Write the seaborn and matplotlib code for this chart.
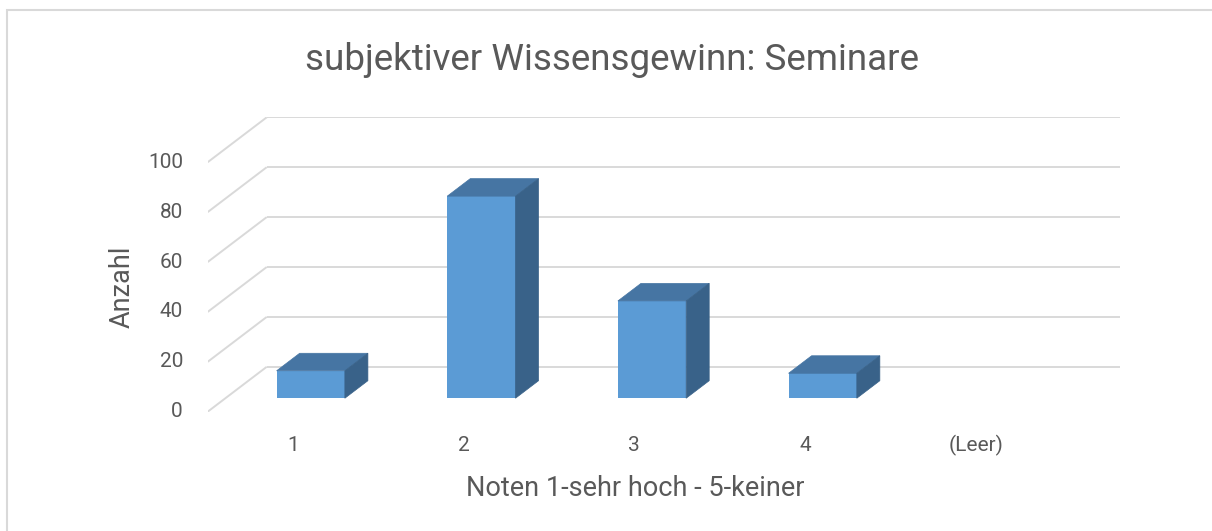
"""Pseudo-3D column chart: subjektiver Wissensgewinn (Seminare)."""

import matplotlib

matplotlib.use("Agg")

import matplotlib.pyplot as plt
import seaborn as sns
from matplotlib.patches import Polygon, Rectangle

categories = ["1", "2", "3", "4", "(Leer)"]
counts = [11, 81, 39, 10, 0]
y_ticks = [0, 20, 40, 60, 80, 100]

TITLE = "subjektiver Wissensgewinn: Seminare"
X_LABEL = "Noten 1-sehr hoch - 5-keiner"
Y_LABEL = "Anzahl"

FRONT = "#5B9BD5"
TOP = "#4675A3"
SIDE = "#396289"
GRID = "#D9D9D9"
TEXT = "#595959"

# oblique projection: full depth of the plot box in data units
DEPTH_X = 0.346
DEPTH_Y = 18.0
BAR_FRONT = 0.30  # bar position inside the depth (fraction)
BAR_BACK = 0.69
BAR_WIDTH = 0.4

W, H = 1212, 531

sns.set_theme(style="white")
plt.rcParams["font.family"] = ["Roboto", "DejaVu Sans"]

fig = plt.figure(figsize=(W / 100, H / 100), dpi=100)
ax = fig.add_axes([207.7 / W, 1 - 411.7 / H, 912.3 / W, 294.4 / H])

sns.barplot(
    x=categories,
    y=counts,
    color=FRONT,
    saturation=1,
    width=BAR_WIDTH,
    linewidth=0,
    ax=ax,
    zorder=3,
)

n = len(categories)
ax.set_xlim(-0.5, n - 0.5 + DEPTH_X)
ax.set_ylim(0, max(y_ticks) + DEPTH_Y)
ax.axis("off")

# grid: back wall lines plus the diagonals on the left wall
x0 = -0.5
for t in y_ticks:
    ax.plot([x0, x0 + DEPTH_X], [t, t + DEPTH_Y], color=GRID, lw=1.4, zorder=1,
            solid_capstyle="butt")
    ax.plot([x0 + DEPTH_X, n - 0.5 + DEPTH_X], [t + DEPTH_Y, t + DEPTH_Y],
            color=GRID, lw=1.4, zorder=1, solid_capstyle="butt")
    ax.text(x0 - 0.145, t, str(t), ha="right", va="center", fontsize=15,
            color=TEXT)

# push the front faces into the box and add top / side faces
fx, fy = BAR_FRONT * DEPTH_X, BAR_FRONT * DEPTH_Y
dx = (BAR_BACK - BAR_FRONT) * DEPTH_X
dy = (BAR_BACK - BAR_FRONT) * DEPTH_Y
for bar in list(ax.patches):
    bar.set_x(bar.get_x() + fx)
    bar.set_y(bar.get_y() + fy)
    h = bar.get_height()
    if h <= 0:
        bar.set_visible(False)
        continue
    left, bottom, w = bar.get_x(), bar.get_y(), bar.get_width()
    top = bottom + h
    right = left + w
    ax.add_patch(Polygon(
        [(left, top), (right, top), (right + dx, top + dy), (left + dx, top + dy)],
        closed=True, facecolor=TOP, edgecolor=TOP, lw=0.5, zorder=3))
    ax.add_patch(Polygon(
        [(right, bottom), (right + dx, bottom + dy), (right + dx, top + dy), (right, top)],
        closed=True, facecolor=SIDE, edgecolor=SIDE, lw=0.5, zorder=3))

for i, label in enumerate(categories):
    ax.text(i, -13.7, label, ha="center", va="center", fontsize=15, color=TEXT)

fig.text(612 / W, 1 - 60 / H, TITLE, ha="center", va="center", fontsize=26.5,
         color=TEXT)
fig.text(635 / W, 1 - 488 / H, X_LABEL, ha="center", va="center", fontsize=19.5,
         color=TEXT)
fig.text(122 / W, 1 - 287 / H, Y_LABEL, ha="center", va="center", fontsize=19.5,
         color=TEXT, rotation=90)

fig.add_artist(Rectangle((7 / W, -0.1), 1.2, 1.1 - 10 / H, transform=fig.transFigure,
                         fill=False, edgecolor=GRID, lw=1.5))

fig.savefig("out.png", dpi=100)
